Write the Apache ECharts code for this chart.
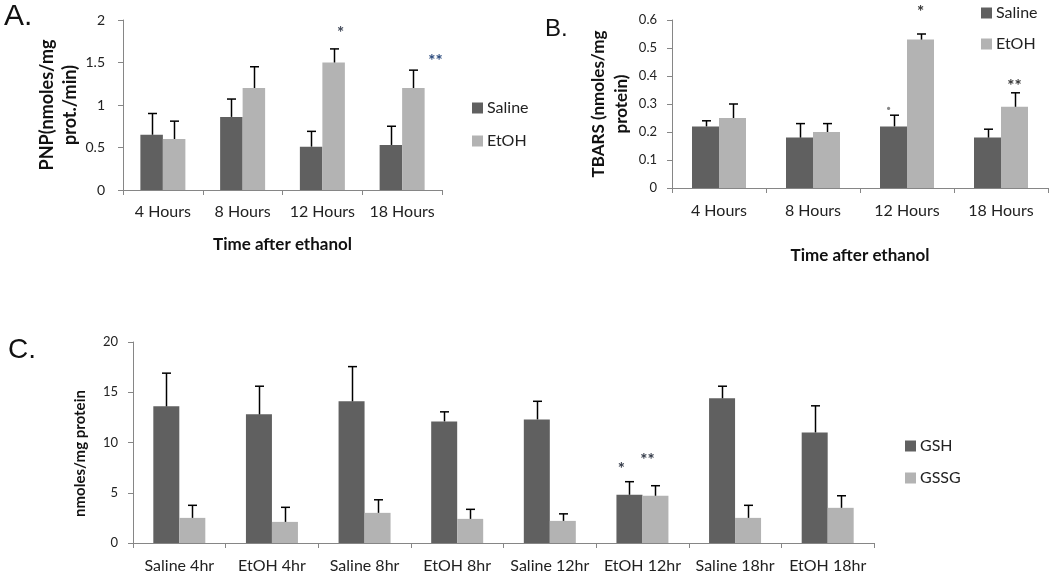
<!DOCTYPE html>
<html><head><meta charset="utf-8">
<script src="https://cdn.jsdelivr.net/npm/echarts@6/dist/echarts.min.js"></script>
<style>html,body{margin:0;padding:0;background:#fff}#c{width:1050px;height:574px}</style>
</head><body><div id="c"></div><script>
// ---------- DATA ----------
const timeCats = ['4 Hours', '8 Hours', '12 Hours', '18 Hours'];
// Panel A: PNP (nmoles/mg prot./min)
const pnpSaline   = [0.65, 0.86, 0.51, 0.53];
const pnpSalineSD = [0.25, 0.21, 0.18, 0.22];
const pnpEtoh     = [0.60, 1.20, 1.50, 1.20];
const pnpEtohSD   = [0.21, 0.25, 0.16, 0.21];
// Panel B: TBARS (nmoles/mg protein)
const tbarsSaline   = [0.22, 0.18, 0.22, 0.18];
const tbarsSalineSD = [0.02, 0.05, 0.04, 0.03];
const tbarsEtoh     = [0.25, 0.20, 0.53, 0.29];
const tbarsEtohSD   = [0.05, 0.03, 0.02, 0.05];
// Panel C: GSH / GSSG (nmoles/mg protein)
const groupCats = ['Saline 4hr', 'EtOH 4hr', 'Saline 8hr', 'EtOH 8hr', 'Saline 12hr', 'EtOH 12hr', 'Saline 18hr', 'EtOH 18hr'];
const gsh     = [13.6, 12.8, 14.1, 12.1, 12.3, 4.8, 14.4, 11.0];
const gshSD   = [3.3, 2.8, 3.45, 0.95, 1.8, 1.3, 1.2, 2.65];
const gssg    = [2.5, 2.1, 3.0, 2.4, 2.2, 4.7, 2.5, 3.5];
const gssgSD  = [1.25, 1.45, 1.3, 0.95, 0.7, 1.0, 1.25, 1.2];
// significance marks: category index, series (0 = first, 1 = second), value height, text
const sigA = [{cat: 2, ser: 1, y: 1.90, text: '*'}, {cat: 3, ser: 1, y: 1.57, text: '**'}];
const sigB = [{cat: 2, ser: 0, y: 0.30, text: '·'}, {cat: 2, ser: 1, y: 0.645, text: '*'}, {cat: 3, ser: 1, y: 0.38, text: '**'}];
const sigC = [{cat: 5, ser: 0, y: 7.8, text: '*'}, {cat: 5, ser: 1, y: 8.7, text: '**'}];

// ---------- STYLE ----------
const DARK = '#606060', LIGHT = '#b3b3b3', AXIS = '#868686', TXT = '#222';
const FONT = 'Lato';
const sigStyleA = [{dx: 7, color: '#3e4656'}, {dx: 22, color: '#2b4a7c'}];
const sigStyleB = [{dx: -5, color: '#888'}, {dx: 0, color: '#333'}, {dx: 0, color: '#333'}];
const sigStyleC = [{dx: -8, color: '#333a48'}, {dx: -8, color: '#333a48'}];

function barSeries(name, xi, vals, color, w) {
  return {type: 'bar', name, xAxisIndex: xi, yAxisIndex: xi, data: vals, barWidth: w, barGap: '0%',
    itemStyle: {color}, z: 2, silent: true};
}
function errSeries(name, xi, means, sds, barW, side) {
  return {
    type: 'custom', name, xAxisIndex: xi, yAxisIndex: xi, z: 5, silent: true, clip: false,
    data: means.map((m, i) => [i, m, m + sds[i]]),
    encode: {x: 0, y: [1, 2]},
    renderItem(params, api) {
      const b = api.coord([api.value(0), api.value(1)]);
      const t = api.coord([api.value(0), api.value(2)]);
      const x = Math.round(b[0] + side * barW / 2) + 0.5;
      return {type: 'group', children: [
        {type: 'line', shape: {x1: x, y1: b[1], x2: x, y2: t[1]}, style: {stroke: '#000', lineWidth: 1.5}},
        {type: 'line', shape: {x1: x - 4.5, y1: t[1], x2: x + 4.5, y2: t[1]}, style: {stroke: '#000', lineWidth: 1.5}}
      ]};
    }
  };
}
function sigSeries(xi, list, styles, barW, size) {
  return {
    type: 'custom', xAxisIndex: xi, yAxisIndex: xi, z: 6, silent: true, clip: false,
    data: list.map(a => [a.cat, a.y]),
    renderItem(params, api) {
      const a = list[params.dataIndex], s = styles[params.dataIndex];
      const p = api.coord([api.value(0), api.value(1)]);
      const side = a.ser === 0 ? -1 : 1;
      return {type: 'text', x: p[0] + side * barW / 2 + s.dx, y: p[1] + size * 0.28,
        style: {text: a.text, fill: s.color, font: 'bold ' + size + 'px ' + FONT,
          align: 'center', verticalAlign: 'middle', textAlign: 'center', textVerticalAlign: 'middle'}};
    }
  };
}
function xAxis(gi, cats, fs, margin, name, gap) {
  return {type: 'category', gridIndex: gi, data: cats,
    axisLine: {lineStyle: {color: AXIS, width: 1}},
    axisTick: {show: true, length: 5, alignWithLabel: false, lineStyle: {color: AXIS}},
    axisLabel: {fontFamily: FONT, fontSize: fs, color: TXT, margin, interval: 0},
    splitLine: {show: false},
    name: name || '', nameLocation: 'middle', nameGap: gap || 0,
    nameTextStyle: {fontFamily: FONT, fontWeight: 'bold', fontSize: 17, color: '#111'}};
}
function yAxis(gi, max, interval, fs, margin, name, gap, nfs, pad) {
  return {type: 'value', gridIndex: gi, min: 0, max, interval,
    axisLine: {show: true, lineStyle: {color: AXIS, width: 1}},
    axisTick: {show: true, length: 5, lineStyle: {color: AXIS}},
    axisLabel: {fontFamily: FONT, fontSize: fs, color: TXT, margin},
    splitLine: {show: false},
    name, nameLocation: 'middle', nameRotate: 90, nameGap: gap,
    nameTextStyle: {fontFamily: FONT, fontWeight: 'bold', fontSize: nfs, lineHeight: 23, color: '#111', padding: pad || 0}};
}
function legend(names, left, top, gap) {
  return {data: names, orient: 'vertical', left, top, itemGap: gap, itemWidth: 11, itemHeight: 11,
    icon: 'rect', itemStyle: {borderWidth: 0}, selectedMode: false,
    textStyle: {fontFamily: FONT, fontSize: 16, color: TXT, padding: [0, 0, 0, -1]}};
}

const wA = 22.5, wB = 27, wC = 26;
const option = {
  animation: false,
  backgroundColor: '#fff',
  grid: [
    {left: 123, top: 20, width: 319, height: 170},
    {left: 672, top: 20, width: 376, height: 168},
    {left: 133, top: 342, width: 741, height: 201}
  ],
  xAxis: [
    xAxis(0, timeCats, 16, 14, 'Time after ethanol', 46),
    xAxis(1, timeCats, 16, 15, 'Time after ethanol', 59),
    xAxis(2, groupCats, 16, 15)
  ],
  yAxis: [
    yAxis(0, 2, 0.5, 14, 18, 'PNP(nmoles/mg\nprot./min)', 37, 18),
    yAxis(1, 0.6, 0.1, 13, 15, 'TBARS (nmoles/mg\nprotein)', 39, 17),
    yAxis(2, 20, 5, 13, 15, 'nmoles/mg protein', 33, 15, [0, 22, 0, 0])
  ],
  legend: [
    legend(['Saline', 'EtOH'], 467, 95, 17),
    legend(['Saline', 'EtOH'], 976, 0, 15),
    legend(['GSH', 'GSSG'], 900, 433, 16)
  ],
  graphic: [
    {type: 'text', left: 4, top: 2, style: {text: 'A.', font: '30px "Liberation Sans"', fill: '#111'}},
    {type: 'text', left: 545, top: 17, style: {text: 'B.', font: '24px "Liberation Sans"', fill: '#111'}},
    {type: 'text', left: 8, top: 336, style: {text: 'C.', font: '28px "Liberation Sans"', fill: '#111'}}
  ],
  series: [
    barSeries('Saline', 0, pnpSaline, DARK, wA),
    barSeries('EtOH', 0, pnpEtoh, LIGHT, wA),
    errSeries('Saline SD A', 0, pnpSaline, pnpSalineSD, wA, -1),
    errSeries('EtOH SD A', 0, pnpEtoh, pnpEtohSD, wA, 1),
    sigSeries(0, sigA, sigStyleA, wA, 17),

    barSeries('Saline', 1, tbarsSaline, DARK, wB),
    barSeries('EtOH', 1, tbarsEtoh, LIGHT, wB),
    errSeries('Saline SD B', 1, tbarsSaline, tbarsSalineSD, wB, -1),
    errSeries('EtOH SD B', 1, tbarsEtoh, tbarsEtohSD, wB, 1),
    sigSeries(1, sigB, sigStyleB, wB, 17),

    barSeries('GSH', 2, gsh, DARK, wC),
    barSeries('GSSG', 2, gssg, LIGHT, wC),
    errSeries('GSH SD', 2, gsh, gshSD, wC, -1),
    errSeries('GSSG SD', 2, gssg, gssgSD, wC, 1),
    sigSeries(2, sigC, sigStyleC, wC, 17)
  ]
};
const chart = echarts.init(document.getElementById('c'), null, {renderer: 'canvas'});
chart.setOption(option);
</script></body></html>
